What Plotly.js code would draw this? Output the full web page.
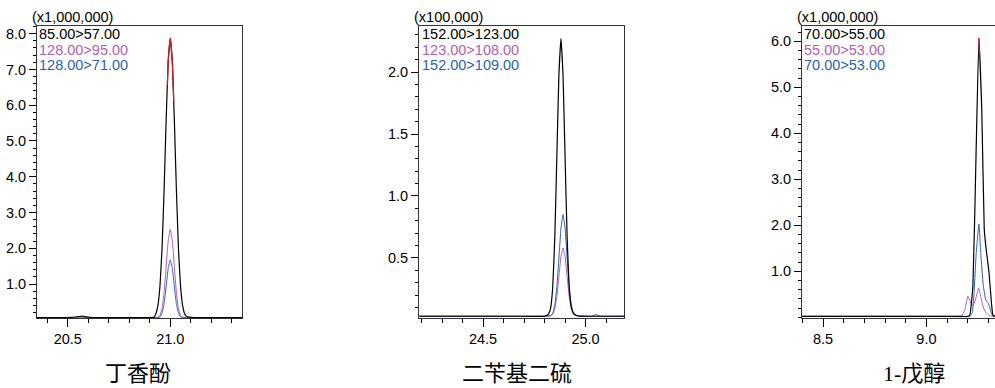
<!DOCTYPE html>
<html>
<head>
<meta charset="utf-8">
<script src="https://cdn.plot.ly/plotly-3.0.1.min.js"></script>
<style>
html,body{margin:0;padding:0;overflow:hidden;background:#fff;}
#chart{width:1012px;height:388px;}
</style>
</head>
<body>
<div id="chart"></div>
<script>
// ---------- Panel 1: 丁香酚 (x1,000,000) ----------
const p1_title = "丁香酚";
const p1_scale = "(x1,000,000)";
const p1_labels = ["85.00>57.00", "128.00>95.00", "128.00>71.00"];
const p1_black_x = [20.35,20.45,20.52,20.55,20.57,20.59,20.62,20.7,20.8,20.9,20.92,20.93,20.94,20.95,20.96,20.97,20.98,20.99,21.00,21.01,21.02,21.03,21.04,21.05,21.06,21.07,21.08,21.1,21.2,21.35];
const p1_black_y = [0.06,0.06,0.07,0.09,0.10,0.08,0.06,0.06,0.06,0.06,0.07,0.17,0.41,0.96,2.00,3.63,5.58,7.22,7.88,7.22,5.58,3.63,2.00,0.96,0.41,0.17,0.09,0.07,0.06,0.06];
const p1_purple_x = [20.35,20.6,20.9,20.94,20.95,20.96,20.97,20.98,20.99,21.00,21.01,21.02,21.03,21.04,21.05,21.06,21.1,21.35];
const p1_purple_y = [0.05,0.05,0.05,0.07,0.13,0.32,0.76,1.48,2.21,2.53,2.21,1.48,0.76,0.32,0.13,0.07,0.05,0.05];
const p1_blue_x = [20.35,20.6,20.9,20.94,20.95,20.96,20.97,20.98,20.99,21.00,21.01,21.02,21.03,21.04,21.05,21.06,21.1,21.35];
const p1_blue_y = [0.05,0.05,0.05,0.06,0.08,0.19,0.45,0.92,1.44,1.67,1.44,0.92,0.45,0.19,0.08,0.06,0.05,0.05];
const p1_red_x = [20.986,20.99,21.00,21.01,21.017];
const p1_red_y = [6.56,7.22,7.88,7.22,6.10];

// ---------- Panel 2: 二苄基二硫 (x100,000) ----------
const p2_title = "二苄基二硫";
const p2_scale = "(x100,000)";
const p2_labels = ["152.00>123.00", "123.00>108.00", "152.00>109.00"];
const p2_black_x = [24.19,24.3,24.5,24.7,24.8,24.82,24.83,24.84,24.85,24.86,24.87,24.88,24.89,24.90,24.91,24.92,24.93,24.94,24.95,24.97,25.0,25.1,25.19];
const p2_black_y = [0.03,0.03,0.03,0.03,0.03,0.05,0.10,0.27,0.67,1.32,1.98,2.27,1.98,1.32,0.67,0.27,0.11,0.06,0.04,0.03,0.03,0.03,0.03];
const p2_purple_x = [24.19,24.5,24.8,24.83,24.84,24.85,24.86,24.87,24.88,24.89,24.90,24.91,24.92,24.93,24.94,24.96,25.0,25.19];
const p2_purple_y = [0.03,0.03,0.03,0.034,0.047,0.09,0.19,0.35,0.51,0.58,0.51,0.35,0.19,0.09,0.047,0.034,0.03,0.03];
const p2_blue_x = [24.19,24.5,24.8,24.83,24.84,24.85,24.86,24.87,24.88,24.89,24.90,24.91,24.92,24.93,24.94,24.96,25.03,25.05,25.07,25.19];
const p2_blue_y = [0.03,0.03,0.03,0.035,0.055,0.12,0.27,0.50,0.74,0.85,0.74,0.50,0.27,0.12,0.055,0.035,0.03,0.045,0.03,0.03];

// ---------- Panel 3: 1-戊醇 (x1,000,000) ----------
const p3_title = "1-戊醇";
const p3_scale = "(x1,000,000)";
const p3_labels = ["70.00>55.00", "55.00>53.00", "70.00>53.00"];
const p3_black_x = [8.398,8.6,8.8,9.0,9.15,9.2,9.21,9.225,9.24,9.254,9.268,9.28,9.29,9.303,9.315,9.322,9.34,9.41];
const p3_black_y = [0.02,0.02,0.02,0.02,0.02,0.02,0.05,0.67,3.50,6.07,4.50,1.90,1.45,0.97,0.30,0.05,0.02,0.02];
const p3_purple_x = [8.398,8.8,9.1,9.17,9.185,9.201,9.212,9.222,9.232,9.244,9.253,9.263,9.273,9.285,9.30,9.32,9.41];
const p3_purple_y = [0.02,0.02,0.02,0.03,0.15,0.46,0.35,0.25,0.30,0.50,0.64,0.45,0.25,0.12,0.05,0.02,0.02];
const p3_blue_x = [8.398,8.8,9.1,9.21,9.222,9.23,9.241,9.254,9.263,9.275,9.287,9.30,9.312,9.322,9.41];
const p3_blue_y = [0.02,0.02,0.02,0.02,0.10,0.50,1.39,2.03,1.39,0.70,0.38,0.30,0.12,0.03,0.02];
const p3_red_x = [9.254,9.2573];
const p3_red_y = [6.07,5.70];

// ---------- styling ----------
const W = 1012, H = 388, T = 26, B = 70;
const BLACK = "#000000", PURPLE = "#b35db3", BLUE = "#2d5fb5", RED = "#e0161b";
const FONT = "Liberation Sans, Arial, sans-serif";
const TFONT = "Liberation Serif, Noto Sans CJK SC, serif";

const panels = [
  {px:[37,242], xr:[20.35,21.35], yr:[0.05,8.215], ymin:0.2, tickv:[1,2,3,4,5,6,7,8],
   bx:p1_black_x, by:p1_black_y, ux:p1_purple_x, uy:p1_purple_y, lx:p1_blue_x, ly:p1_blue_y, rx:p1_red_x, ry:p1_red_y,
   title:p1_title, scale:p1_scale, labels:p1_labels, scaleX:29.5, labX:38, titleX:138},
  {px:[419,624], xr:[24.1875,25.1875], yr:[0.016,2.371], ymin:0.1, tickv:[0.5,1.0,1.5,2.0],
   bx:p2_black_x, by:p2_black_y, ux:p2_purple_x, uy:p2_purple_y, lx:p2_blue_x, ly:p2_blue_y, rx:null, ry:null,
   title:p2_title, scale:p2_scale, labels:p2_labels, scaleX:411.5, labX:420.5, titleX:516.5},
  {px:[802,1007], xr:[8.398,9.39], yr:[-0.015,6.333], ymin:0.2, tickv:[1,2,3,4,5,6],
   bx:p3_black_x, by:p3_black_y, ux:p3_purple_x, uy:p3_purple_y, lx:p3_blue_x, ly:p3_blue_y, rx:p3_red_x, ry:p3_red_y,
   title:p3_title, scale:p3_scale, labels:p3_labels, scaleX:795, labX:803, titleX:914}
];

const traces = [];
const layout = {
  width: W, height: H,
  margin: {l:0, r:0, t:T, b:B, autoexpand:false},
  paper_bgcolor: "#fff", plot_bgcolor: "#fff",
  showlegend: false,
  font: {family: FONT, size: 14.5, color: "#000"},
  annotations: []
};
const ypx = py => (H - B - py) / (H - T - B);

panels.forEach((p, i) => {
  const n = i + 1;
  const xa = n === 1 ? "x" : "x" + n, ya = n === 1 ? "y" : "y" + n;
  const mk = (x, y, c, w) => ({x, y, type:"scatter", mode:"lines", xaxis:xa, yaxis:ya,
                               line:{color:c, width:w, shape:"spline", smoothing:0.35}, hoverinfo:"skip"});
  traces.push(mk(p.ux, p.uy, PURPLE, 1));
  traces.push(mk(p.lx, p.ly, BLUE, 1));
  traces.push(mk(p.bx, p.by, BLACK, 1.2));
  if (p.rx) traces.push(mk(p.rx, p.ry, RED, 1.2));

  layout["xaxis" + (n === 1 ? "" : n)] = {
    domain: [p.px[0] / W, p.px[1] / W], anchor: ya, range: p.xr,
    showgrid:false, zeroline:false, showline:true, linecolor:"#333", linewidth:1, mirror:true,
    ticks:"outside", ticklen:8, tickwidth:1, tickcolor:"#000", dtick:0.5, tick0:0, tickformat:".1f",
    tickfont:{family:FONT, size:14.5, color:"#000"},
    minor:{ticks:"outside", ticklen:4, tickwidth:1, tickcolor:"#000", dtick:0.1, showgrid:false}
  };
  layout["yaxis" + (n === 1 ? "" : n)] = {
    domain:[0,1], anchor: xa, range: p.yr,
    showgrid:false, zeroline:false, showline:true, linecolor:"#333", linewidth:1, mirror:true,
    ticks:"outside", ticklen:7, tickwidth:1, tickcolor:"#000", tickmode:"array", tickvals:p.tickv,
    ticktext:p.tickv.map(v => v.toFixed(1)),
    tickfont:{family:FONT, size:14.5, color:"#000"},
    minor:{ticks:"outside", ticklen:3, tickwidth:1, tickcolor:"#000", dtick:p.ymin, tick0:0, showgrid:false}
  };

  layout.annotations.push({xref:"paper", yref:"paper", x:p.scaleX / W, y:ypx(17), xanchor:"left", yanchor:"middle",
    text:p.scale, showarrow:false, font:{family:FONT, size:14.5, color:"#000"}});
  const cols = [BLACK, PURPLE, BLUE];
  const ys = [33.5, 49.5, 65.3];
  p.labels.forEach((t, k) => {
    layout.annotations.push({xref:"paper", yref:"paper", x:p.labX / W, y:ypx(ys[k]), xanchor:"left", yanchor:"middle",
      text:t, showarrow:false, borderpad:0, font:{family:FONT, size:14.5, color:cols[k]}});
  });
  layout.annotations.push({xref:"paper", yref:"paper", x:p.titleX / W, y:ypx(374), xanchor:"center", yanchor:"middle",
    text:p.title, showarrow:false, borderpad:0, font:{family:TFONT, size:22, color:"#000"}});
});

Plotly.newPlot("chart", traces, layout, {displayModeBar:false, staticPlot:true});
</script>
</body>
</html>
